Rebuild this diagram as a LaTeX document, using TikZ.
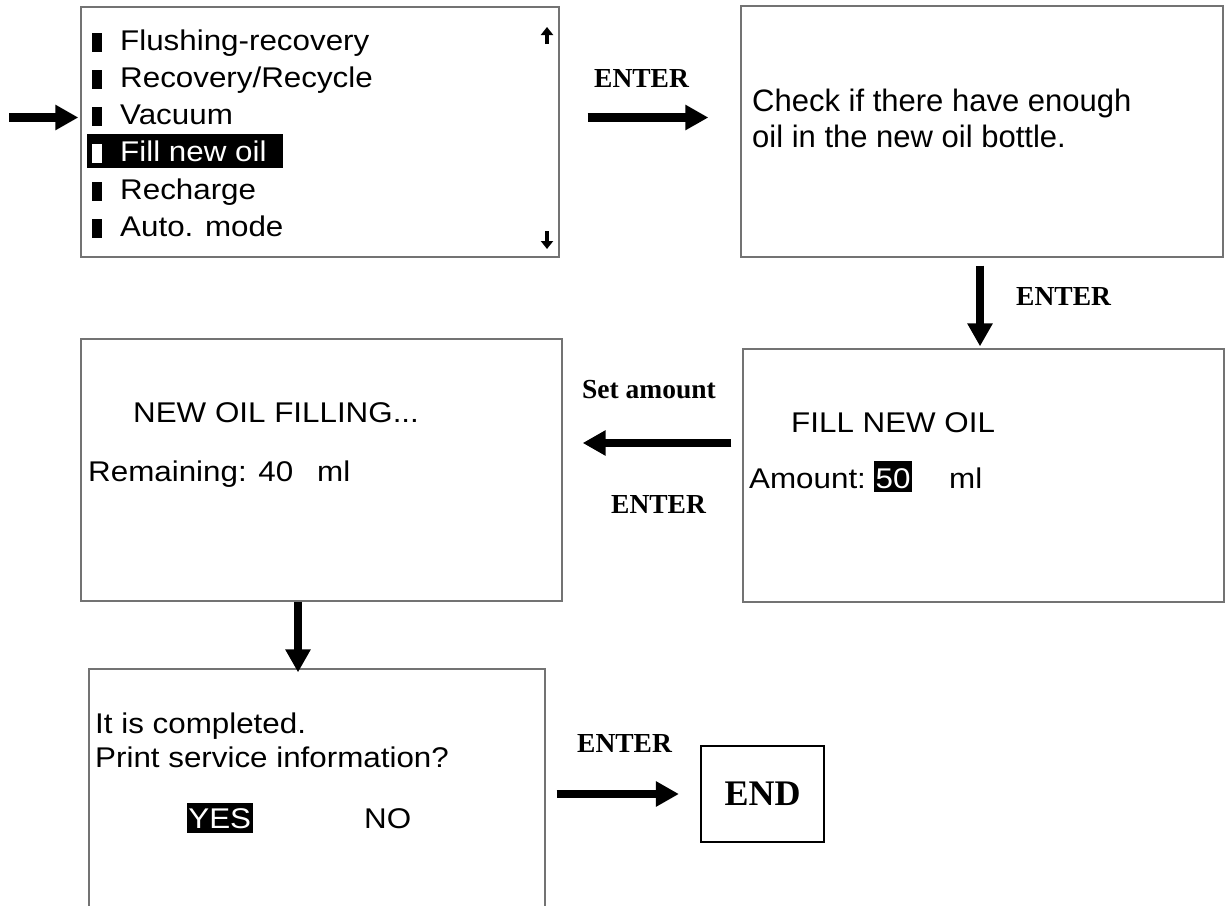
\documentclass[tikz,border=0pt]{standalone}
\usepackage{fontspec}
\usetikzlibrary{arrows.meta}
\newfontfamily\lcdfont[FakeStretch=1.1]{Liberation Sans}
\newfontfamily\lcdplain{Liberation Sans}
\newfontfamily\keyfont{Liberation Serif}
\begin{document}
\begin{tikzpicture}[x=1pt,y=-1pt,
  screen/.style={draw=black!55, line width=1.3pt, fill=white, inner sep=0pt},
  lcd/.style={font=\lcdfont\fontsize{28.5}{34}\selectfont, anchor=base west, inner sep=0pt},
  lcdbig/.style={font=\lcdplain\fontsize{31}{36}\selectfont, anchor=base west, inner sep=0pt},
  keylabel/.style={font=\keyfont\bfseries\fontsize{27.5}{33}\selectfont, anchor=base west, inner sep=0pt},
  endbox/.style={draw=black, line width=2.2pt, fill=white, inner sep=0pt,
    font=\keyfont\bfseries\fontsize{36}{40}\selectfont},
  flow/.style={line width=8.5pt, -{Triangle[length=23pt,width=24pt]}},
  tiny/.style={line width=4pt, -{Triangle[length=8pt,width=12pt]}}
]
\useasboundingbox (0,0) rectangle (1226,905);
\fill[white] (0,0) rectangle (1226,905);

% ---- screens ----
\node[screen, minimum width=478pt, minimum height=250pt] (menu) at (320,132) {};
\node[screen, minimum width=482pt, minimum height=251pt] (check) at (982,131.5) {};
\node[screen, minimum width=481pt, minimum height=253pt] (amount) at (983.5,475.5) {};
\node[screen, minimum width=481pt, minimum height=262pt] (filling) at (321.5,470) {};
\node[screen, minimum width=456pt, minimum height=246pt] (done) at (317,792) {};
\node[endbox, minimum width=123pt, minimum height=96pt] (finish) at (762.5,794) {END};

% ---- main menu ----
\foreach \b in {50,87,124,199,236} \fill (91.5,\b-17) rectangle (101.5,\b+2);
\fill (87,134) rectangle (283,168);
\fill[white] (91.5,144) rectangle (101.5,163);
\node[lcd] (m1) at (120,50) {Flushing-recovery};
\node[lcd] (m2) at (120,87) {Recovery/Recycle};
\node[lcd] (m3) at (120,124) {Vacuum};
\node[lcd, text=white] (m4) at (120,161) {Fill new oil};
\node[lcd] (m5) at (120,199) {Recharge};
\node[lcd] (m6) at (120,236) {Auto. mode};
\draw[tiny] (547,44) -- (547,27);
\draw[tiny] (547,231) -- (547,249);

% ---- check screen ----
\node[lcdbig] (c1) at (752,111) {Check if there have enough};
\node[lcdbig] (c2) at (752,147) {oil in the new oil bottle.};

% ---- amount screen ----
\node[lcd] (a1) at (791,432) {FILL NEW OIL};
\node[lcd] (a2) at (749,488) {Amount:};
\fill (874,461) rectangle (912,492);
\node[lcd, anchor=base, text=white] (a3) at (893,488) {50};
\node[lcd] (a4) at (949,488) {ml};

% ---- filling screen ----
\node[lcd] (f1) at (133,422) {NEW OIL FILLING...};
\node[lcd] (f2) at (88,481) {Remaining: 40};
\node[lcd] (f3) at (317,481) {ml};

% ---- completion screen ----
\node[lcd] (d1) at (95,733) {It is completed.};
\node[lcd] (d2) at (95,767) {Print service information?};
\fill (186.5,803) rectangle (253,833);
\node[lcd, anchor=base, text=white] (d3) at (219.75,828) {YES};
\node[lcd] (d4) at (364,828) {NO};

% ---- key labels ----
\node[keylabel] (k1) at (594,87) {ENTER};
\node[keylabel] (k2) at (1016,305) {ENTER};
\node[keylabel] (k3) at (582,398) {Set amount};
\node[keylabel] (k4) at (611,513) {ENTER};
\node[keylabel] (k5) at (577,752) {ENTER};

% ---- flow arrows ----
\coordinate (entry) at (9,117.5);
\draw[flow, shorten >=2pt] (entry) -- (entry -| menu.west);
\draw[flow, shorten <=28pt, shorten >=32pt]
  ([yshift=14.5pt]menu.east) -- ([yshift=14.5pt]menu.east -| check.west);
\draw[flow, shorten <=8pt, shorten >=2pt]
  ([xshift=-2pt]check.south) -- ([xshift=-2pt]check.south |- amount.north);
\draw[flow, shorten <=11pt, shorten >=20pt]
  ([yshift=32.5pt]amount.west) -- ([yshift=32.5pt]amount.west -| filling.east);
\draw[flow, shorten >=-4pt]
  ([xshift=-23.5pt]filling.south) -- ([xshift=-23.5pt]filling.south |- done.north);
\draw[flow, shorten <=11pt, shorten >=21pt]
  (done.east |- finish.west) -- (finish.west);
\end{tikzpicture}
\end{document}
